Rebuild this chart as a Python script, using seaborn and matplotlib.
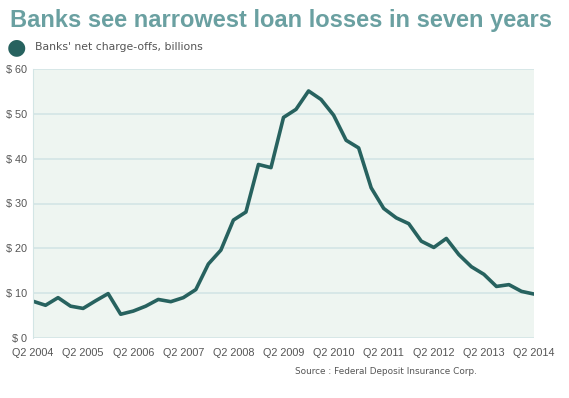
import numpy as np
import pandas as pd
import seaborn as sb
import matplotlib
matplotlib.use('Agg')
import matplotlib.pyplot as plt

# net charge-offs, billions, quarterly Q2 2004 .. Q2 2014
quarters = []
for y in range(2004, 2015):
    for q in (1, 2, 3, 4):
        if (y == 2004 and q < 2) or (y == 2014 and q > 2):
            continue
        quarters.append('Q%d %d' % (q, y))
charge_offs = [8.2, 7.3, 9.0, 7.1, 6.6, 8.3, 9.9, 5.3, 6.0, 7.1, 8.6, 8.1, 9.0, 10.8,
               16.5, 19.6, 26.3, 28.1, 38.7, 38.0, 49.2, 51.0, 55.1, 53.2, 49.7, 44.1,
               42.4, 33.5, 28.9, 26.8, 25.5, 21.6, 20.2, 22.2, 18.6, 15.9, 14.2, 11.5,
               11.9, 10.4, 9.8]
y_ticks = [0, 10, 20, 30, 40, 50, 60]
y_labels = ['$ %d' % v for v in y_ticks]

data = pd.DataFrame({'quarter': quarters, 'value': charge_offs})
data['pos'] = np.arange(len(data))

sb.set_style('white')
plt.rcParams['font.family'] = ['Liberation Sans', 'DejaVu Sans']

line_col = '#27625f'
fig = plt.figure(figsize=(5.69, 3.98), dpi=100)
ax = fig.add_axes([33 / 569, 60 / 398, 501 / 569, 269 / 398])
ax.set_facecolor('#eef5f1')
sb.lineplot(x='pos', y='value', data=data, color=line_col, linewidth=2.6, ax=ax)

ax.set_xlim(0, len(data) - 1)
ax.set_ylim(0, 60)
ax.set_yticks(y_ticks)
ax.set_yticklabels(y_labels)
tick_pos = data['pos'][::4]
ax.set_xticks(tick_pos)
ax.set_xticklabels(data['quarter'][::4])
ax.tick_params(axis='both', length=0, labelsize=7.8, colors='#555555')
ax.tick_params(axis='x', pad=7)
ax.tick_params(axis='y', pad=4)
ax.grid(axis='y', color='#d3e5e5', linewidth=1.2)
ax.set_axisbelow(True)
for s in ax.spines.values():
    s.set_visible(False)
ax.spines['left'].set_visible(True)
ax.spines['left'].set_color('#d3e5e5')
ax.set_xlabel('')
ax.set_ylabel('')

fig.text(10 / 569, 1 - 20 / 398, 'Banks see narrowest loan losses in seven years',
         fontsize=17, fontweight='bold', color='#6aa0a1', va='center', ha='left')
fig.text(16 / 569, 1 - 47 / 398, '\u25cf', fontsize=16, color=line_col, va='center', ha='center',
         family=['DejaVu Sans'])
fig.text(35 / 569, 1 - 47 / 398, "Banks' net charge-offs, billions", fontsize=7.8,
         color='#555555', va='center', ha='left', family=['DejaVu Sans'])
fig.text(477 / 569, 1 - 372 / 398, 'Source : Federal Deposit Insurance Corp.', fontsize=6.4,
         color='#555555', va='center', ha='right', family=['DejaVu Sans'])

fig.savefig('out.png', dpi=100)
